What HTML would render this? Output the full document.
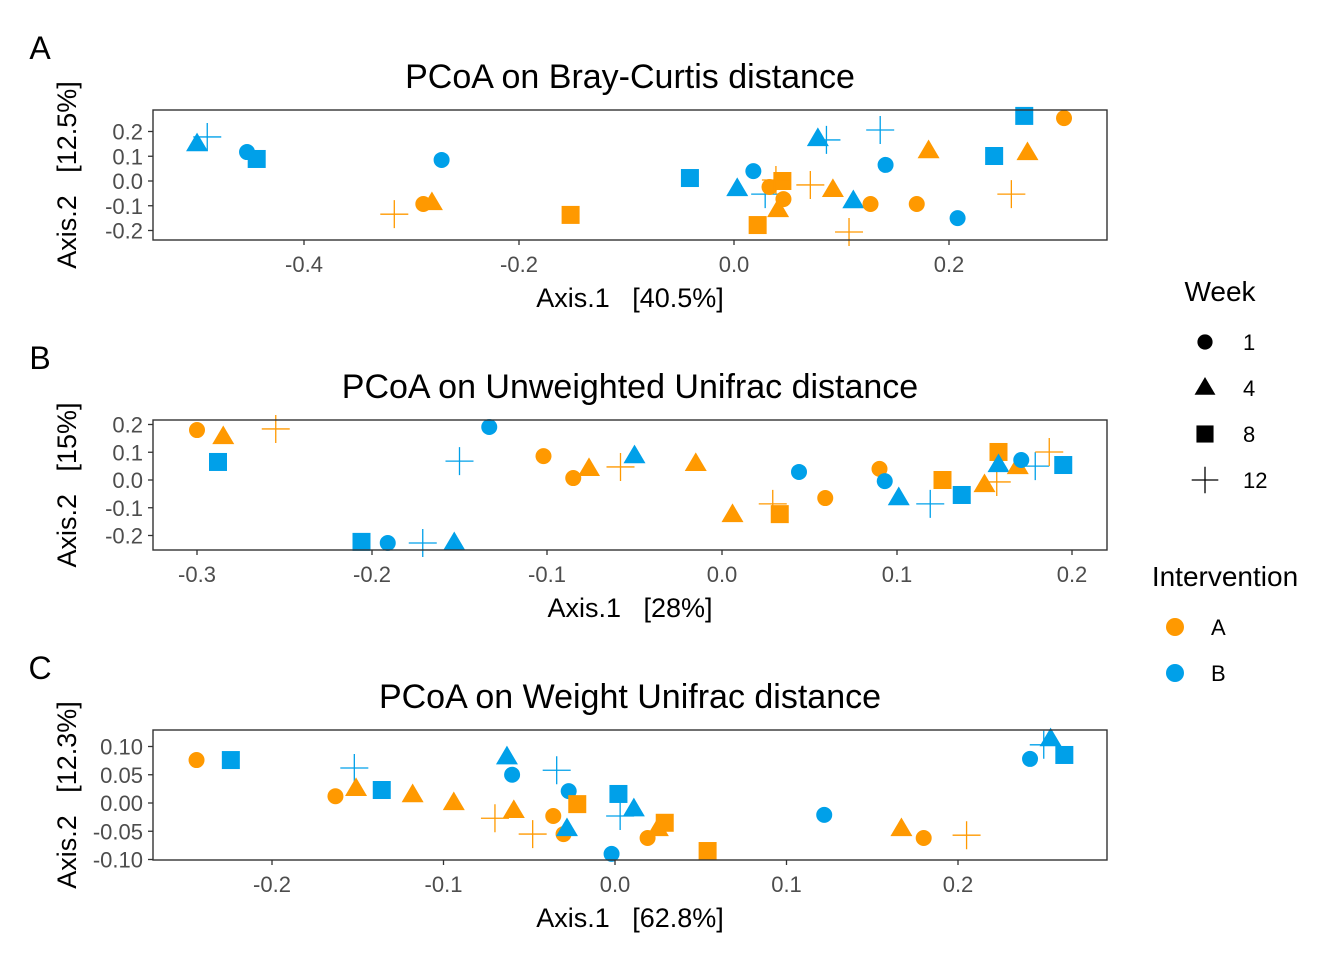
<!DOCTYPE html>
<html><head><meta charset="utf-8"><style>
body{margin:0;background:#fff;}
svg{display:block;font-family:"Liberation Sans",Arial,sans-serif;}
text{white-space:pre;}
</style></head><body>
<svg id="fig" width="1344" height="960" viewBox="0 0 1344 960" xml:space="preserve"></svg>
<script>
// Panel A: Bray-Curtis
const axA = [-0.4995,-0.490,-0.453,-0.444,-0.272,-0.316,-0.289,-0.281,-0.152,-0.041,0.003,0.018,0.029,0.033,0.045,0.046,0.041,0.022,0.039,0.071,0.078,0.086,0.092,0.111,0.127,0.107,0.136,0.141,0.181,0.170,0.208,0.242,0.258,0.273,0.270,0.307];
const ayA = [0.149,0.178,0.117,0.089,0.085,-0.134,-0.093,-0.089,-0.137,0.012,-0.032,0.040,-0.053,-0.024,0.000,-0.073,-0.117,-0.178,0.004,-0.016,0.170,0.166,-0.036,-0.081,-0.093,-0.206,0.206,0.065,0.121,-0.093,-0.150,0.101,-0.053,0.113,0.263,0.254];
const grpA = ["B","B","B","B","B","A","A","A","A","B","B","B","B","A","A","A","A","A","A","A","B","B","A","B","A","A","B","B","A","A","B","B","A","A","B","A"];
const wkA = [4,12,1,8,1,12,1,4,8,8,4,1,12,1,8,1,4,8,12,12,4,12,4,4,1,12,12,1,4,1,1,8,12,4,8,1];
// Panel B: Unweighted Unifrac
const axB = [-0.300,-0.285,-0.255,-0.288,-0.206,-0.191,-0.171,-0.153,-0.150,-0.133,-0.102,-0.085,-0.076,-0.058,-0.050,-0.015,0.006,0.029,0.033,0.044,0.059,0.090,0.093,0.101,0.119,0.126,0.137,0.150,0.157,0.158,0.158,0.169,0.171,0.179,0.187,0.195];
const ayB = [0.180,0.155,0.184,0.065,-0.223,-0.227,-0.227,-0.227,0.068,0.191,0.086,0.007,0.040,0.047,0.086,0.058,-0.126,-0.086,-0.123,0.029,-0.065,0.040,-0.004,-0.065,-0.086,0.000,-0.054,-0.018,-0.007,0.101,0.054,0.047,0.072,0.050,0.101,0.054];
const grpB = ["A","A","A","B","B","B","B","B","B","B","A","A","A","A","B","A","A","A","A","B","A","A","B","B","B","A","B","A","A","A","B","A","B","B","A","B"];
const wkB = [1,4,12,8,8,1,12,4,12,1,1,1,4,12,4,4,4,12,8,1,1,1,1,4,12,8,8,4,12,8,4,4,1,12,12,8];
// Panel C: Weighted Unifrac
const axC = [-0.244,-0.224,-0.152,-0.163,-0.151,-0.136,-0.118,-0.094,-0.063,-0.060,-0.034,-0.027,-0.070,-0.059,-0.048,-0.036,-0.022,-0.030,-0.028,0.002,0.003,0.011,-0.002,0.019,0.025,0.029,0.054,0.122,0.167,0.180,0.205,0.242,0.250,0.254,0.262];
const ayC = [0.076,0.076,0.062,0.012,0.025,0.023,0.014,0.000,0.081,0.050,0.058,0.021,-0.027,-0.014,-0.055,-0.023,-0.002,-0.055,-0.046,0.016,-0.023,-0.011,-0.090,-0.062,-0.046,-0.035,-0.085,-0.021,-0.046,-0.062,-0.057,0.078,0.103,0.113,0.085];
const grpC = ["A","B","B","A","A","B","A","A","B","B","B","B","A","A","A","A","A","A","B","B","B","B","B","A","A","A","A","B","A","A","A","B","B","B","B"];
const wkC = [1,8,12,1,4,8,4,4,4,1,12,1,12,4,12,1,8,1,4,8,12,4,1,1,4,8,8,1,4,1,12,1,12,4,8];
// Axis ticks
const xTicksA = [-0.4,-0.2,0.0,0.2], yTicksA = [0.2,0.1,0.0,-0.1,-0.2];
const xTicksB = [-0.3,-0.2,-0.1,0.0,0.1,0.2], yTicksB = [0.2,0.1,0.0,-0.1,-0.2];
const xTicksC = [-0.2,-0.1,0.0,0.1,0.2], yTicksC = [0.10,0.05,0.00,-0.05,-0.10];

const NS="http://www.w3.org/2000/svg";
const svg=document.getElementById('fig');
const COL={A:"#FF9900",B:"#00A0E9"};
function mk(tag,attrs,parent){const e=document.createElementNS(NS,tag);for(const k in attrs)e.setAttribute(k,attrs[k]);(parent||svg).appendChild(e);return e;}
function txt(s,x,y,size,anchor,fill,parent,rot){const t=mk('text',{x:x,y:y,'font-size':size,'text-anchor':anchor,fill:fill},parent);if(rot)t.setAttribute('transform',rot);t.textContent=s;return t;}
function shape(g,w,cx,cy,col,scale){
  scale=scale||1;let e;
  if(w===1){e=mk('circle',{cx:cx,cy:cy,r:8*scale,fill:col},g);}
  else if(w===4){const s=11*scale;e=mk('polygon',{points:`${cx-s},${cy+s*0.65} ${cx+s},${cy+s*0.65} ${cx},${cy-s*1.05}`,fill:col},g);}
  else if(w===8){const s=9*scale;e=mk('rect',{x:cx-s,y:cy-s,width:2*s,height:2*s,fill:col},g);}
  else {const s=14*scale;e=mk('path',{d:`M${cx-s},${cy}H${cx+s}M${cx},${cy-s}V${cy+s}`,stroke:col,'stroke-width':1.3,fill:'none'},g);}
  return e;
}
function panel(cfg){
  const g=mk('g',{});
  
  
  const X=v=>cfg.x0px+(v-cfg.x0v)*cfg.xs;
  const Y=v=>cfg.y0px-(v-cfg.y0v)*cfg.ys;
  const L=txt(cfg.letter,40,cfg.top+25,32,'middle','#000',g);
  
  const T=txt(cfg.title,630,cfg.top+54,34,'middle','#000',g);
  
  const pts=mk('g',{},g);
  
  for(let i=0;i<cfg.xs_.length;i++){
    const p=shape(pts,cfg.wk[i],X(cfg.xs_[i]),Y(cfg.ys_[i]),COL[cfg.grp[i]]);
    
    
  }
  const fr=mk('rect',{x:153,y:cfg.pt,width:954,height:cfg.pb-cfg.pt,fill:'none',stroke:'#333','stroke-width':1.4},g);
  
  cfg.xt.forEach(v=>{const x=X(v);mk('line',{x1:x,x2:x,y1:cfg.pb,y2:cfg.pb+5,stroke:'#333','stroke-width':1.3},g);
    const t=txt(v.toFixed(1),x,cfg.pb+32,22,'middle','#4d4d4d',g);});
  cfg.yt.forEach(v=>{const y=Y(v);mk('line',{x1:148,x2:153,y1:y,y2:y,stroke:'#333','stroke-width':1.3},g);
    const t=txt(v.toFixed(cfg.yd),143,y+8,22,'end','#4d4d4d',g);});
  const xl=txt(cfg.xlab,630,cfg.pb+67,27,'middle','#000',g);
  const cy=(cfg.pt+cfg.pb)/2;
  const yl=txt(cfg.ylab,76,cy,27,'middle','#000',g,`rotate(-90 76 ${cy})`);
}
panel({name:'panel-bray-curtis',letter:'A',top:34,title:'PCoA on Bray-Curtis distance',pt:110,pb:240,
  x0px:734,x0v:0,xs:1075,y0px:181,y0v:0,ys:247.5,xs_:axA,ys_:ayA,grp:grpA,wk:wkA,xt:xTicksA,yt:yTicksA,yd:1,
  xlab:'Axis.1   [40.5%]',ylab:'Axis.2   [12.5%]'});
panel({name:'panel-unweighted-unifrac',letter:'B',top:344,title:'PCoA on Unweighted Unifrac distance',pt:420,pb:550,
  x0px:722,x0v:0,xs:1750,y0px:480,y0v:0,ys:277.5,xs_:axB,ys_:ayB,grp:grpB,wk:wkB,xt:xTicksB,yt:yTicksB,yd:1,
  xlab:'Axis.1   [28%]',ylab:'Axis.2   [15%]'});
panel({name:'panel-weighted-unifrac',letter:'C',top:654,title:'PCoA on Weight Unifrac distance',pt:730,pb:860,
  x0px:615,x0v:0,xs:1715,y0px:803,y0v:0,ys:565,xs_:axC,ys_:ayC,grp:grpC,wk:wkC,xt:xTicksC,yt:yTicksC,yd:2,
  xlab:'Axis.1   [62.8%]',ylab:'Axis.2   [12.3%]'});

// Legends
const lg=mk('g',{});


const wt=txt('Week',1220,301,28,'middle','#000',lg);


[[1,342],[4,388],[8,434],[12,480]].forEach(([w,y])=>{
  const s=shape(lg,w,1205,y,'#000',0.95);
  
  
  txt(String(w),1243,y+8,22,'start','#000',lg);
});
const it=txt('Intervention',1225,586,28,'middle','#000',lg);


[['A',627],['B',673]].forEach(([k,y])=>{
  const c=mk('circle',{cx:1175,cy:y,r:9,fill:COL[k]},lg);
  
  
  txt(k,1211,y+8,22,'start','#000',lg);
});
</script>
</body></html>
